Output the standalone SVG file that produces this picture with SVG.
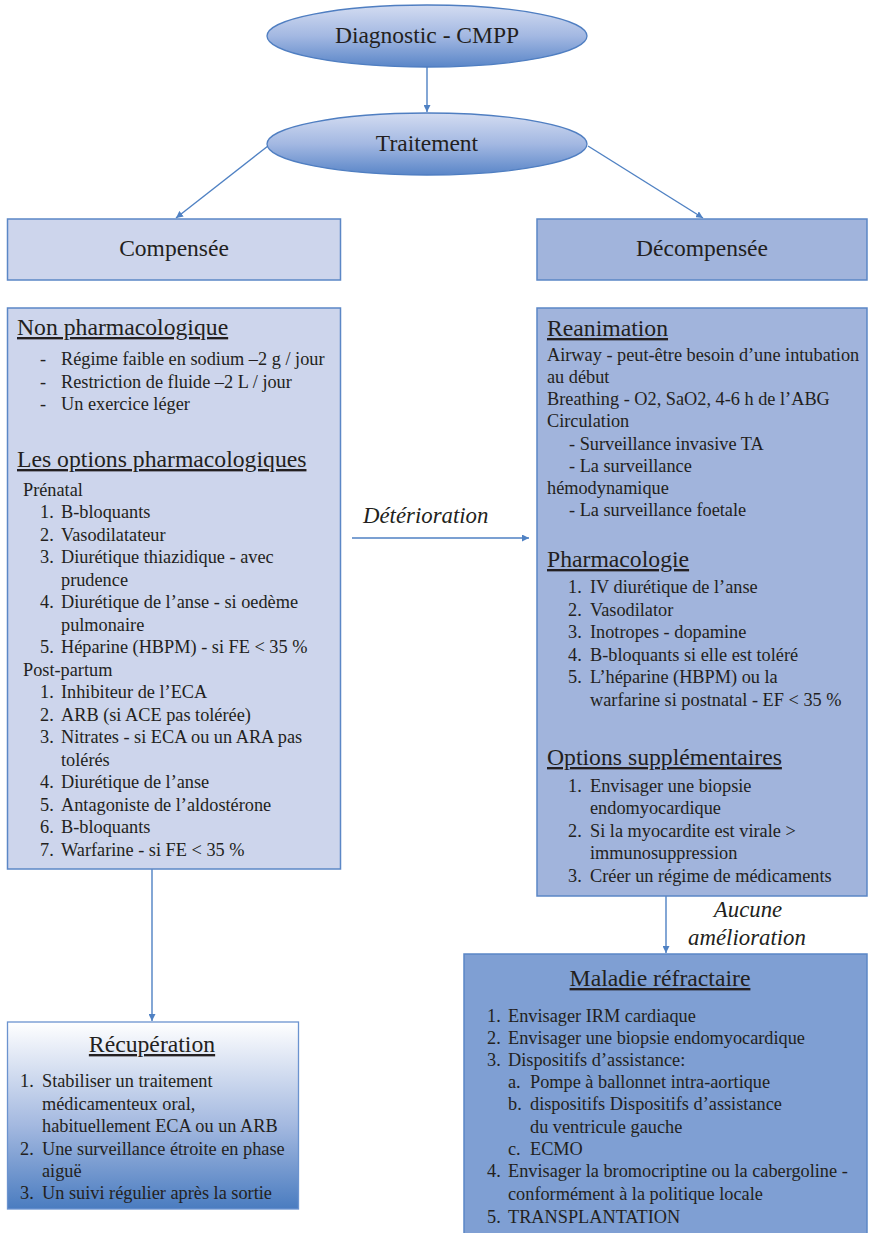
<svg xmlns="http://www.w3.org/2000/svg" width="869" height="1233" viewBox="0 0 869 1233">
  <style>
    text { font-family: "Liberation Serif", "Times New Roman", serif; fill: #231f20; }
    .b { font-size: 18.3px; }
    .h { font-size: 23.7px; text-decoration: underline; }
    .t { font-size: 23.5px; }
    .i { font-size: 22.8px; font-style: italic; }
    .c { text-anchor: middle; }
    .edge { stroke: #4f81c3; stroke-width: 1.4; fill: none; marker-end: url(#arr); }
    .box { stroke: #5b87c6; stroke-width: 1.5; }
  </style>
  <defs>
    <linearGradient id="ell" x1="0" y1="0" x2="0" y2="1">
      <stop offset="0" stop-color="#d3dcf1"/>
      <stop offset="0.5" stop-color="#a3b8e2"/>
      <stop offset="1" stop-color="#5a86c8"/>
    </linearGradient>
    <linearGradient id="rec" x1="0" y1="0" x2="0" y2="1">
      <stop offset="0" stop-color="#ffffff"/>
      <stop offset="0.55" stop-color="#a4b9e0"/>
      <stop offset="1" stop-color="#4a7cc0"/>
    </linearGradient>
    <marker id="arr" viewBox="0 0 10 10" refX="10" refY="5" markerWidth="7" markerHeight="7" markerUnits="userSpaceOnUse" orient="auto">
      <path d="M0,0 L10,5 L0,10 z" fill="#4f81c3"/>
    </marker>
  </defs>

  <!-- connectors -->
  <g id="connectors">
    <line class="edge" x1="427" y1="67" x2="427" y2="112"/>
    <line class="edge" x1="268" y1="146" x2="176" y2="218"/>
    <line class="edge" x1="588" y1="146" x2="703" y2="218"/>
    <line class="edge" x1="352" y1="538" x2="529" y2="538"/>
    <line class="edge" x1="152" y1="869" x2="152" y2="1021"/>
    <line class="edge" x1="666" y1="896" x2="666" y2="953"/>
    <text class="i" x="363" y="523">Détérioration</text>
    <text class="i c" x="748" y="917">Aucune</text>
    <text class="i c" x="747" y="945">amélioration</text>
  </g>

  <g id="diagnostic">
    <ellipse cx="427" cy="36" rx="160" ry="31" fill="url(#ell)" stroke="#4f7ec1" stroke-width="1.3"/>
    <text class="t c" x="427" y="43">Diagnostic - CMPP</text>
  </g>

  <g id="traitement">
    <ellipse cx="427" cy="144" rx="160" ry="31" fill="url(#ell)" stroke="#4f7ec1" stroke-width="1.3"/>
    <text class="t c" x="427" y="151">Traitement</text>
  </g>

  <g id="compensee">
    <rect class="box" x="7.5" y="219" width="333" height="61" fill="#cdd5ec"/>
    <text class="t c" x="174" y="256">Compensée</text>
  </g>

  <g id="decompensee">
    <rect class="box" x="537" y="219" width="330" height="61" fill="#a1b4dc"/>
    <text class="t c" x="702" y="256">Décompensée</text>
  </g>

  <g id="options-compensee">
    <rect class="box" x="7.5" y="308" width="333" height="561" fill="#cdd5ec"/>
    <text class="h" x="17" y="335">Non pharmacologique</text>
    <g class="b">
      <text x="40" y="365">-</text><text x="61" y="365">Régime faible en sodium –2 g / jour</text>
      <text x="40" y="387.5">-</text><text x="61" y="387.5">Restriction de fluide –2 L / jour</text>
      <text x="40" y="410">-</text><text x="61" y="410">Un exercice léger</text>
    </g>
    <text class="h" x="17" y="467">Les options pharmacologiques</text>
    <g class="b">
      <text x="23" y="496">Prénatal</text>
      <text x="40" y="518">1.</text><text x="61" y="518">B-bloquants</text>
      <text x="40" y="540.5">2.</text><text x="61" y="540.5">Vasodilatateur</text>
      <text x="40" y="563">3.</text><text x="61" y="563">Diurétique thiazidique - avec</text>
      <text x="61" y="585.5">prudence</text>
      <text x="40" y="608">4.</text><text x="61" y="608">Diurétique de l’anse - si oedème</text>
      <text x="61" y="630.5">pulmonaire</text>
      <text x="40" y="653">5.</text><text x="61" y="653">Héparine (HBPM) - si FE &lt; 35 %</text>
      <text x="23" y="675.5">Post-partum</text>
      <text x="40" y="698">1.</text><text x="61" y="698">Inhibiteur de l’ECA</text>
      <text x="40" y="720.5">2.</text><text x="61" y="720.5">ARB (si ACE pas tolérée)</text>
      <text x="40" y="743">3.</text><text x="61" y="743">Nitrates - si ECA ou un ARA pas</text>
      <text x="61" y="765.5">tolérés</text>
      <text x="40" y="788">4.</text><text x="61" y="788">Diurétique de l’anse</text>
      <text x="40" y="810.5">5.</text><text x="61" y="810.5">Antagoniste de l’aldostérone</text>
      <text x="40" y="833">6.</text><text x="61" y="833">B-bloquants</text>
      <text x="40" y="855.5">7.</text><text x="61" y="855.5">Warfarine - si FE &lt; 35 %</text>
    </g>
  </g>

  <g id="options-decompensee">
    <rect class="box" x="537" y="308" width="330" height="588" fill="#a1b4dc"/>
    <text class="h" x="547" y="336">Reanimation</text>
    <g class="b">
      <text x="547" y="361">Airway - peut-être besoin d’une intubation</text>
      <text x="547" y="383">au début</text>
      <text x="547" y="405">Breathing - O2, SaO2, 4-6 h de l’ABG</text>
      <text x="547" y="427">Circulation</text>
      <text x="569" y="450">- Surveillance invasive TA</text>
      <text x="569" y="472">- La surveillance</text>
      <text x="547" y="494">hémodynamique</text>
      <text x="569" y="516">- La surveillance foetale</text>
    </g>
    <text class="h" x="547" y="567">Pharmacologie</text>
    <g class="b">
      <text x="568" y="593">1.</text><text x="590" y="593">IV diurétique de l’anse</text>
      <text x="568" y="616">2.</text><text x="590" y="616">Vasodilator</text>
      <text x="568" y="638">3.</text><text x="590" y="638">Inotropes - dopamine</text>
      <text x="568" y="661">4.</text><text x="590" y="661">B-bloquants si elle est toléré</text>
      <text x="568" y="683">5.</text><text x="590" y="683">L’héparine (HBPM) ou la</text>
      <text x="590" y="706">warfarine si postnatal - EF &lt; 35 %</text>
    </g>
    <text class="h" x="547" y="765">Options supplémentaires</text>
    <g class="b">
      <text x="568" y="792">1.</text><text x="590" y="792">Envisager une biopsie</text>
      <text x="590" y="814">endomyocardique</text>
      <text x="568" y="837">2.</text><text x="590" y="837">Si la myocardite est virale &gt;</text>
      <text x="590" y="859">immunosuppression</text>
      <text x="568" y="882">3.</text><text x="590" y="882">Créer un régime de médicaments</text>
    </g>
  </g>

  <g id="recuperation">
    <rect x="7.5" y="1022" width="291" height="187" fill="url(#rec)" stroke="#6b93cf" stroke-width="1.3"/>
    <text class="h c" x="152" y="1052">Récupération</text>
    <g class="b">
      <text x="20" y="1087">1.</text><text x="42" y="1087">Stabiliser un traitement</text>
      <text x="42" y="1110">médicamenteux oral,</text>
      <text x="42" y="1132">habituellement ECA ou un ARB</text>
      <text x="20" y="1155">2.</text><text x="42" y="1155">Une surveillance étroite en phase</text>
      <text x="42" y="1177">aiguë</text>
      <text x="20" y="1199">3.</text><text x="42" y="1199">Un suivi régulier après la sortie</text>
    </g>
  </g>

  <g id="maladie-refractaire">
    <rect class="box" x="464" y="954" width="403" height="290" fill="#7f9fd3"/>
    <text class="h c" x="660" y="986">Maladie réfractaire</text>
    <g class="b">
      <text x="487" y="1022">1.</text><text x="508" y="1022">Envisager IRM cardiaque</text>
      <text x="487" y="1044">2.</text><text x="508" y="1044">Envisager une biopsie endomyocardique</text>
      <text x="487" y="1066">3.</text><text x="508" y="1066">Dispositifs d’assistance:</text>
      <text x="508" y="1088">a.</text><text x="530" y="1088">Pompe à ballonnet intra-aortique</text>
      <text x="508" y="1110">b.</text><text x="530" y="1110">dispositifs Dispositifs d’assistance</text>
      <text x="530" y="1133">du ventricule gauche</text>
      <text x="508" y="1155">c.</text><text x="530" y="1155">ECMO</text>
      <text x="487" y="1177">4.</text><text x="508" y="1177">Envisager la bromocriptine ou la cabergoline -</text>
      <text x="508" y="1200">conformément à la politique locale</text>
      <text x="487" y="1223">5.</text><text x="508" y="1223">TRANSPLANTATION</text>
    </g>
  </g>
</svg>
